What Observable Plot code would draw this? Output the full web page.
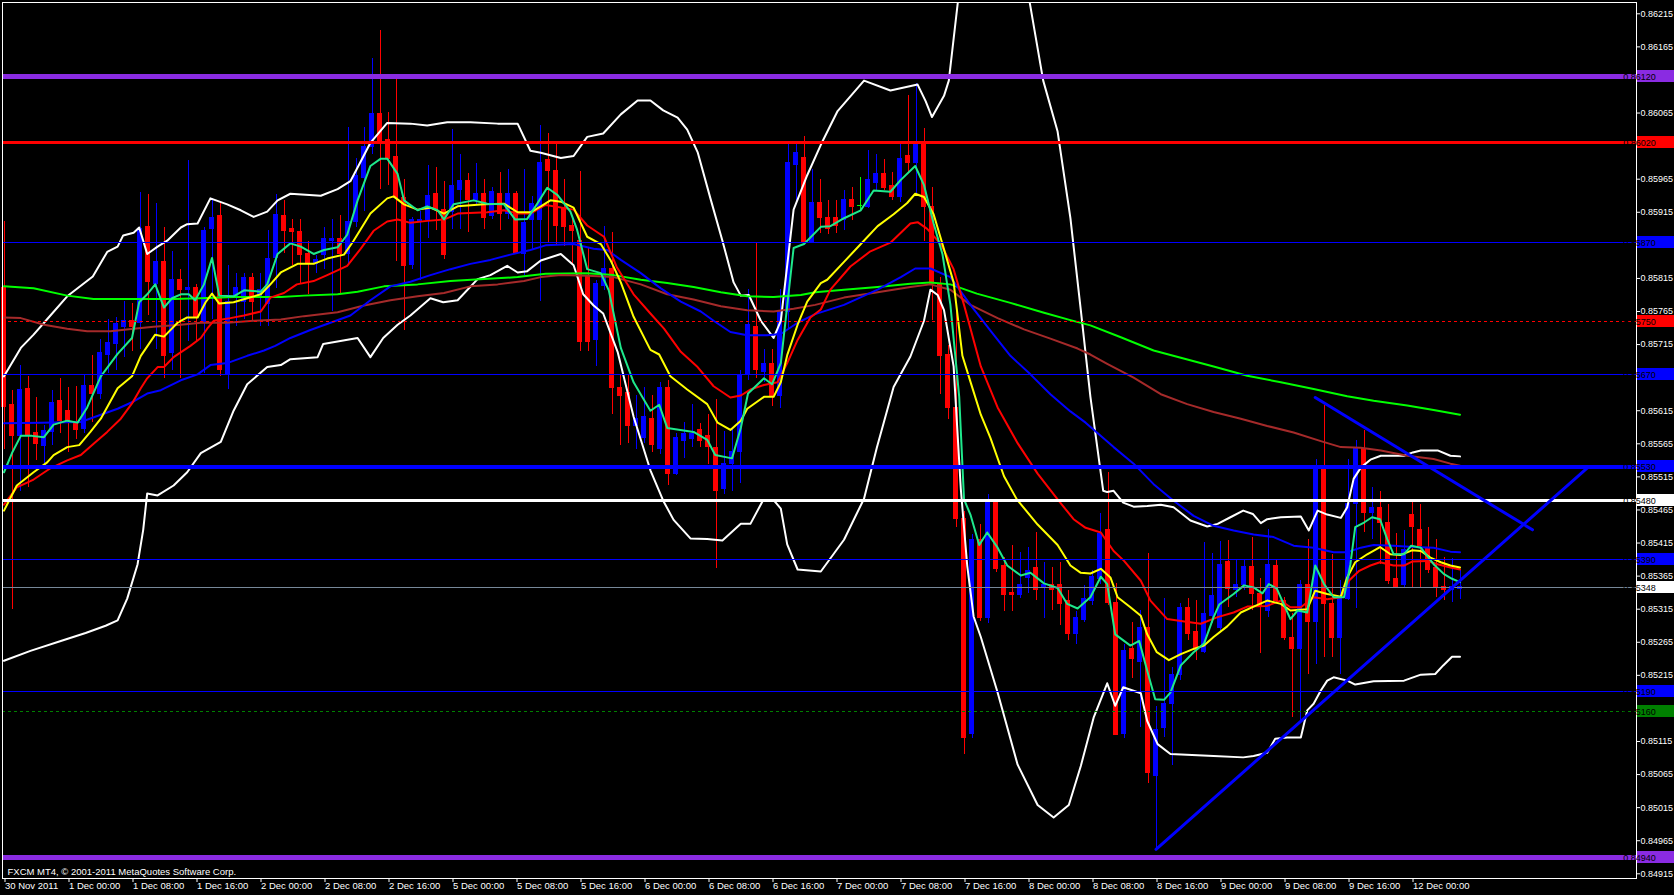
<!DOCTYPE html>
<html><head><meta charset="utf-8">
<script src="https://cdn.jsdelivr.net/npm/d3@7"></script>
<script src="https://cdn.jsdelivr.net/npm/@observablehq/plot@0.6"></script>
<style>html,body{margin:0;padding:0;background:#000;overflow:hidden}</style>
</head><body><div id="chart"></div>
<script>
// ---- H1 candles, bar 0 = 30 Nov 2011 16:00 ----
const open = [0.85800,0.85623,0.85577,0.85648,0.85581,0.85562,0.85583,0.85629,0.85614,0.85596,
0.85588,0.85652,0.85641,0.85700,0.85716,0.85742,0.85750,0.85748,0.85892,0.85807,
0.85840,0.85703,0.85813,0.85797,0.85800,0.85748,0.85889,0.85910,0.85670,0.85788,
0.85780,0.85816,0.85789,0.85777,0.85846,0.85910,0.85889,0.85885,0.85852,0.85837,
0.85851,0.85871,0.85874,0.85852,0.85901,0.85967,0.86014,0.86063,0.86025,0.85999,
0.85936,0.85836,0.85901,0.85904,0.85942,0.85918,0.85916,0.85948,0.85963,0.85933,
0.85942,0.85910,0.85943,0.85913,0.85942,0.85852,0.85904,0.85904,0.85994,0.85978,
0.85922,0.85894,0.85872,0.85818,0.85722,0.85803,0.85829,0.85650,0.85642,0.85592,
0.85574,0.85603,0.85557,0.85650,0.85519,0.85570,0.85573,0.85586,0.85577,0.85558,
0.85496,0.85534,0.85552,0.85669,0.85741,0.85674,0.85685,0.85638,0.85765,0.85987,
0.85997,0.85869,0.85929,0.85906,0.85907,0.85904,0.85933,0.85925,0.85923,0.85960,
0.85973,0.85954,0.85938,0.86000,0.85989,0.86018,0.85923,0.85806,0.85699,0.85619,
0.85452,0.85127,0.85420,0.85301,0.85475,0.85380,0.85340,0.85337,0.85362,0.85378,
0.85347,0.85351,0.85351,0.85328,0.85277,0.85298,0.85328,0.85361,0.85434,0.85325,
0.85127,0.85255,0.85235,0.85287,0.85063,0.85136,0.85171,0.85216,0.85317,0.85281,
0.85251,0.85305,0.85287,0.85386,0.85344,0.85352,0.85379,0.85338,0.85313,0.85381,
0.85328,0.85271,0.85255,0.85351,0.85295,0.85527,0.85323,0.85272,0.85330,0.85474,
0.85557,0.85461,0.85468,0.85445,0.85361,0.85351,0.85458,0.85434,0.85406,0.85378,
0.85349,0.85344,0.85345];
const high = [0.85901,0.85646,0.85684,0.85667,0.85635,0.85592,0.85645,0.85664,0.85650,0.85652,
0.85670,0.85698,0.85722,0.85753,0.85756,0.85780,0.85777,0.85945,0.85942,0.85928,
0.85892,0.85855,0.85829,0.85994,0.85806,0.85892,0.85936,0.85930,0.85834,0.85823,
0.85823,0.85823,0.85823,0.85887,0.85942,0.85933,0.85904,0.85904,0.85871,0.85849,
0.85892,0.85904,0.85910,0.86043,0.85996,0.86043,0.86147,0.86190,0.86066,0.86118,
0.85965,0.85907,0.85916,0.85985,0.85982,0.85962,0.86040,0.86002,0.85973,0.85988,
0.85965,0.85953,0.85975,0.85980,0.85946,0.85980,0.85939,0.86046,0.86034,0.86020,
0.85965,0.85907,0.85976,0.85861,0.85812,0.85893,0.85884,0.85670,0.85670,0.85638,
0.85650,0.85638,0.85658,0.85661,0.85580,0.85597,0.85624,0.85595,0.85609,0.85632,
0.85583,0.85586,0.85676,0.85798,0.85868,0.85707,0.85707,0.85798,0.86017,0.86017,
0.86030,0.85980,0.85964,0.85933,0.85933,0.85948,0.85952,0.85967,0.86008,0.86002,
0.85995,0.85975,0.86018,0.86091,0.86110,0.86041,0.85952,0.85817,0.85713,0.85767,
0.85462,0.85428,0.85443,0.85488,0.85478,0.85393,0.85412,0.85400,0.85408,0.85431,
0.85385,0.85378,0.85385,0.85343,0.85312,0.85351,0.85373,0.85460,0.85522,0.85354,
0.85262,0.85295,0.85313,0.85399,0.85168,0.85331,0.85227,0.85323,0.85331,0.85328,
0.85416,0.85399,0.85417,0.85419,0.85388,0.85388,0.85423,0.85361,0.85436,0.85389,
0.85333,0.85308,0.85358,0.85420,0.85542,0.85623,0.85398,0.85358,0.85542,0.85570,
0.85585,0.85499,0.85493,0.85474,0.85429,0.85434,0.85476,0.85473,0.85439,0.85420,
0.85393,0.85391,0.85373];
const low = [0.85556,0.85314,0.85493,0.85499,0.85540,0.85530,0.85562,0.85580,0.85552,0.85571,
0.85580,0.85597,0.85632,0.85672,0.85676,0.85695,0.85704,0.85707,0.85759,0.85707,
0.85664,0.85676,0.85664,0.85719,0.85719,0.85672,0.85753,0.85667,0.85647,0.85742,
0.85753,0.85751,0.85742,0.85742,0.85800,0.85852,0.85834,0.85806,0.85791,0.85822,
0.85829,0.85765,0.85791,0.85834,0.85892,0.85916,0.86002,0.85950,0.85956,0.85840,
0.85736,0.85829,0.85812,0.85875,0.85887,0.85843,0.85889,0.85889,0.85884,0.85927,
0.85889,0.85904,0.85888,0.85904,0.85852,0.85820,0.85858,0.85780,0.85869,0.85865,
0.85864,0.85838,0.85705,0.85705,0.85682,0.85797,0.85609,0.85563,0.85566,0.85557,
0.85566,0.85552,0.85549,0.85502,0.85517,0.85543,0.85560,0.85560,0.85534,0.85376,
0.85488,0.85493,0.85505,0.85661,0.85664,0.85658,0.85621,0.85618,0.85739,0.85930,
0.85868,0.85868,0.85883,0.85881,0.85883,0.85887,0.85902,0.85918,0.85920,0.85948,
0.85948,0.85933,0.85930,0.85975,0.85940,0.85871,0.85751,0.85640,0.85601,0.85439,
0.85096,0.85119,0.85296,0.85293,0.85370,0.85312,0.85312,0.85331,0.85339,0.85328,
0.85301,0.85313,0.85290,0.85267,0.85262,0.85295,0.85320,0.85353,0.85320,0.85124,
0.85120,0.85210,0.85136,0.85051,0.84952,0.85121,0.85078,0.85207,0.85267,0.85237,
0.85248,0.85293,0.85282,0.85318,0.85333,0.85343,0.85313,0.85248,0.85303,0.85323,
0.85267,0.85151,0.85146,0.85217,0.85232,0.85242,0.85242,0.85217,0.85328,0.85316,
0.85431,0.85421,0.85383,0.85353,0.85348,0.85347,0.85347,0.85347,0.85369,0.85333,
0.85328,0.85325,0.85330];
const close = [0.85621,0.85577,0.85646,0.85579,0.85565,0.85585,0.85626,0.85600,0.85598,0.85586,
0.85652,0.85641,0.85703,0.85717,0.85746,0.85750,0.85742,0.85889,0.85809,0.85840,
0.85698,0.85812,0.85797,0.85800,0.85756,0.85887,0.85907,0.85676,0.85780,0.85800,
0.85815,0.85780,0.85797,0.85845,0.85911,0.85887,0.85885,0.85851,0.85837,0.85843,
0.85874,0.85874,0.85852,0.85901,0.85970,0.86014,0.86063,0.86023,0.85996,0.85936,
0.85834,0.85904,0.85904,0.85939,0.85918,0.85851,0.85955,0.85963,0.85933,0.85943,
0.85907,0.85946,0.85913,0.85943,0.85853,0.85899,0.85928,0.85989,0.85978,0.85894,
0.85893,0.85887,0.85719,0.85719,0.85806,0.85829,0.85650,0.85638,0.85592,0.85603,
0.85605,0.85563,0.85650,0.85519,0.85574,0.85580,0.85580,0.85569,0.85560,0.85494,
0.85534,0.85552,0.85667,0.85744,0.85677,0.85686,0.85638,0.85765,0.85989,0.86005,
0.85869,0.85929,0.85906,0.85889,0.85894,0.85933,0.85923,0.85925,0.85964,0.85973,
0.85952,0.85938,0.85996,0.85989,0.86018,0.85923,0.85806,0.85697,0.85619,0.85452,
0.85121,0.85420,0.85301,0.85478,0.85375,0.85337,0.85337,0.85351,0.85373,0.85344,
0.85352,0.85344,0.85323,0.85277,0.85301,0.85331,0.85363,0.85429,0.85325,0.85125,
0.85252,0.85240,0.85287,0.85068,0.85133,0.85172,0.85216,0.85317,0.85278,0.85253,
0.85308,0.85335,0.85382,0.85345,0.85352,0.85379,0.85338,0.85318,0.85382,0.85327,
0.85271,0.85255,0.85351,0.85295,0.85527,0.85323,0.85272,0.85333,0.85474,0.85557,
0.85461,0.85468,0.85445,0.85358,0.85349,0.85405,0.85439,0.85411,0.85374,0.85348,
0.85344,0.85348,0.85348];

// ---- indicator lines as [bar, price] ----
const maFast = [[0,0.85522],[1,0.85551],[2.1,0.85577],[3.5,0.85577],[5,0.85575],[6.2,0.85594],[7.9,0.85600],[9.2,0.85597],[10.4,0.85620],[12.1,0.85667],[14.2,0.85701],[16,0.85725],[16.9,0.85779],[17.9,0.85791],[18.9,0.85806],[20,0.85771],[21,0.85785],[22.1,0.85791],[23.1,0.85791],[23.9,0.85782],[25,0.85806],[26,0.85846],[26.9,0.85789],[28.7,0.85788],[30,0.85797],[32.1,0.85795],[32.9,0.85806],[34.2,0.85852],[35.8,0.85868],[37.1,0.85863],[38.7,0.85852],[40,0.85858],[41.7,0.85862],[42.9,0.85881],[44.2,0.85933],[45.8,0.85985],[47.1,0.85996],[47.9,0.85996],[49.2,0.85973],[50,0.85933],[51.7,0.85918],[52.9,0.85924],[54.2,0.85918],[55,0.85904],[56.2,0.85927],[58.7,0.85933],[60.4,0.85928],[62.5,0.85927],[63.9,0.85904],[65.4,0.85905],[66.6,0.85927],[67.9,0.85952],[69.2,0.85941],[70.8,0.85916],[71.6,0.85890],[72.9,0.85829],[74.6,0.85823],[75.6,0.85797],[77.1,0.85710],[78.7,0.85658],[80.8,0.85615],[81.9,0.85624],[82.9,0.85589],[86.2,0.85583],[87.9,0.85571],[88.9,0.85548],[91,0.85543],[92.1,0.85589],[93,0.85641],[95,0.85664],[96,0.85655],[97.1,0.85687],[97.9,0.85774],[98.7,0.85861],[100,0.85867],[102.1,0.85893],[103.3,0.85894],[105,0.85906],[107.1,0.85918],[108.7,0.85948],[110.8,0.85946],[112.1,0.85964],[113.9,0.85985],[115,0.85956],[116.2,0.85898],[117.3,0.85852],[118.3,0.85775],[119.4,0.85636],[120,0.85481],[120.8,0.85458],[121.9,0.85412],[122.9,0.85431],[124.2,0.85408],[125.4,0.85381],[127.1,0.85366],[128.3,0.85370],[130,0.85354],[131.7,0.85347],[132.9,0.85323],[134.2,0.85316],[135.8,0.85333],[137.1,0.85364],[137.9,0.85353],[138.9,0.85277],[140.8,0.85260],[141.9,0.85267],[142.9,0.85222],[143.9,0.85179],[145,0.85178],[145.8,0.85189],[147.1,0.85230],[148.7,0.85250],[150,0.85263],[151.2,0.85303],[151.9,0.85322],[153.7,0.85338],[155,0.85351],[156.2,0.85348],[157.3,0.85339],[158.1,0.85353],[159.1,0.85346],[160.8,0.85300],[161.7,0.85313],[162.9,0.85310],[163.9,0.85381],[165,0.85353],[166.2,0.85333],[167.5,0.85333],[168.3,0.85383],[168.9,0.85439],[170,0.85446],[171,0.85454],[172,0.85451],[172.9,0.85421],[173.7,0.85398],[175,0.85398],[175.9,0.85411],[177.1,0.85408],[178.7,0.85383],[180,0.85368],[181,0.85361],[182,0.85356]];
const maYellow = [[0,0.85464],[1.6,0.85502],[3.7,0.85522],[5.4,0.85537],[6.2,0.85548],[7.9,0.85560],[9.4,0.85563],[10.8,0.85583],[12.1,0.85603],[14.2,0.85649],[16,0.85667],[17.1,0.85698],[18.9,0.85730],[20,0.85727],[21.7,0.85748],[22.9,0.85756],[24.2,0.85756],[25.2,0.85779],[26,0.85792],[26.9,0.85777],[28.7,0.85779],[30.4,0.85785],[32.1,0.85791],[33.3,0.85806],[34.6,0.85824],[36.7,0.85837],[38.7,0.85837],[40.4,0.85845],[42.5,0.85851],[43.7,0.85872],[45.8,0.85913],[47.9,0.85936],[48.7,0.85939],[50,0.85927],[51.7,0.85919],[53.3,0.85922],[55,0.85913],[56.7,0.85924],[60,0.85927],[62.5,0.85928],[64.2,0.85915],[65.8,0.85915],[67.1,0.85924],[68.3,0.85933],[69.6,0.85931],[71.2,0.85922],[72.9,0.85878],[74.6,0.85867],[75.8,0.85843],[77.1,0.85809],[78.7,0.85757],[80.8,0.85707],[81.9,0.85700],[83.3,0.85667],[85.4,0.85647],[87.9,0.85625],[89.2,0.85597],[90.8,0.85586],[92.1,0.85600],[92.9,0.85618],[95,0.85636],[96.2,0.85636],[97.1,0.85658],[97.9,0.85699],[99.2,0.85745],[100.4,0.85780],[102.1,0.85808],[102.9,0.85813],[105,0.85840],[107.1,0.85867],[109.2,0.85894],[111.2,0.85912],[112.9,0.85929],[113.9,0.85943],[115,0.85938],[116.2,0.85912],[117.5,0.85859],[118.7,0.85809],[119.8,0.85698],[120.8,0.85659],[122.1,0.85609],[123.3,0.85574],[125,0.85516],[126.6,0.85481],[129.2,0.85443],[131.7,0.85412],[133.3,0.85381],[134.6,0.85370],[135.8,0.85369],[137.1,0.85376],[138.3,0.85363],[139.2,0.85333],[140.8,0.85318],[142.1,0.85305],[142.9,0.85277],[144.1,0.85250],[145.6,0.85238],[147.1,0.85247],[148.7,0.85255],[150,0.85260],[151.2,0.85273],[152.9,0.85289],[154.6,0.85310],[156.2,0.85319],[157.9,0.85328],[159.6,0.85323],[160.8,0.85313],[162.9,0.85315],[163.9,0.85343],[165.4,0.85338],[167.1,0.85334],[167.9,0.85363],[168.9,0.85386],[170.4,0.85398],[172,0.85409],[173.3,0.85398],[174.6,0.85397],[176,0.85404],[177.1,0.85403],[178.3,0.85393],[179.6,0.85386],[180.8,0.85381],[182,0.85378]];
const maRed = [[0,0.85473],[1.6,0.85499],[3.7,0.85511],[5.8,0.85528],[7.9,0.85540],[9.6,0.85548],[11.2,0.85565],[12.9,0.85583],[14.6,0.85603],[16,0.85626],[17.1,0.85649],[17.9,0.85664],[19.2,0.85681],[20,0.85681],[21.2,0.85696],[23.3,0.85713],[24.6,0.85725],[25.4,0.85739],[26.2,0.85751],[28.3,0.85755],[30,0.85759],[32.1,0.85765],[33.3,0.85786],[35,0.85793],[36.6,0.85806],[38.7,0.85811],[40.4,0.85820],[42.9,0.85834],[44.6,0.85860],[46.2,0.85887],[47.9,0.85901],[49.2,0.85904],[50.8,0.85899],[52.9,0.85902],[55,0.85904],[56.7,0.85913],[60.4,0.85915],[62.5,0.85918],[64.2,0.85913],[65.8,0.85913],[67.7,0.85926],[71.2,0.85919],[72.9,0.85895],[75,0.85878],[76.6,0.85832],[78.7,0.85791],[80.8,0.85762],[82.5,0.85739],[84.6,0.85704],[86.7,0.85681],[88.7,0.85652],[90.8,0.85635],[92.1,0.85638],[93.3,0.85647],[95,0.85654],[96.7,0.85658],[97.9,0.85687],[99.2,0.85722],[100.8,0.85756],[102.1,0.85768],[103.3,0.85798],[105.8,0.85833],[108.3,0.85856],[110.8,0.85869],[113.3,0.85898],[114.2,0.85900],[115.4,0.85890],[117.1,0.85867],[118.7,0.85829],[120,0.85775],[122.1,0.85682],[124.2,0.85620],[126.7,0.85566],[129.2,0.85520],[131.7,0.85481],[133.7,0.85451],[135.2,0.85438],[137.1,0.85431],[138.7,0.85403],[140,0.85388],[142.1,0.85358],[143.3,0.85328],[145.4,0.85300],[147.1,0.85297],[149.6,0.85293],[151.7,0.85303],[153.7,0.85310],[155.4,0.85319],[157.9,0.85320],[159.6,0.85328],[160.8,0.85318],[162.1,0.85318],[163.7,0.85333],[165.4,0.85330],[167.1,0.85333],[168.1,0.85358],[169.4,0.85373],[170.8,0.85381],[172,0.85386],[173.7,0.85381],[175,0.85381],[176,0.85387],[177.9,0.85388],[179.2,0.85383],[180.8,0.85378],[182,0.85375]];
const maBlue = [[0,0.85596],[4.6,0.85597],[9.6,0.85598],[12.1,0.85609],[14.2,0.85618],[16.2,0.85629],[17.9,0.85641],[19.6,0.85646],[22.1,0.85661],[24.2,0.85670],[25.8,0.85684],[27.9,0.85687],[30.4,0.85698],[32.5,0.85706],[33.9,0.85713],[35.8,0.85725],[38.3,0.85737],[40.8,0.85748],[43.3,0.85759],[45.8,0.85782],[48.3,0.85803],[50.8,0.85810],[53.3,0.85820],[55.8,0.85829],[58.3,0.85837],[60.8,0.85843],[63.3,0.85851],[65.8,0.85858],[67.7,0.85865],[71.2,0.85867],[73.7,0.85860],[75.4,0.85858],[77.1,0.85843],[79.6,0.85823],[82.1,0.85800],[84.6,0.85780],[87.1,0.85765],[88.7,0.85751],[90.8,0.85734],[92.9,0.85729],[95.4,0.85729],[97.1,0.85731],[99.2,0.85748],[101.4,0.85761],[105,0.85775],[109.2,0.85798],[112.1,0.85817],[113.9,0.85830],[115.8,0.85830],[118.3,0.85817],[120.8,0.85775],[123.3,0.85736],[125.8,0.85698],[128.3,0.85670],[130.8,0.85640],[133.3,0.85614],[135.2,0.85597],[138.7,0.85560],[141.2,0.85535],[143.7,0.85504],[146.2,0.85479],[148.7,0.85456],[151.2,0.85441],[153.7,0.85434],[156.2,0.85428],[158.7,0.85424],[161.2,0.85411],[163.7,0.85408],[166.2,0.85401],[167.9,0.85401],[169.6,0.85408],[171.2,0.85412],[173.7,0.85411],[176.2,0.85409],[178.7,0.85408],[180.8,0.85402],[182,0.85401]];
const maBrown = [[0,0.85756],[2.1,0.85755],[5,0.85745],[7.9,0.85739],[10.4,0.85735],[13.3,0.85735],[16.2,0.85739],[18.7,0.85742],[22.1,0.85745],[24.6,0.85748],[27.9,0.85748],[31.2,0.85751],[34.6,0.85753],[37.5,0.85758],[41.7,0.85764],[45,0.85774],[48.3,0.85782],[51.7,0.85788],[55,0.85793],[58.3,0.85803],[61.7,0.85806],[65,0.85811],[67.1,0.85817],[69.6,0.85820],[72.9,0.85819],[76.2,0.85817],[79.6,0.85806],[82.9,0.85791],[86.2,0.85783],[89.6,0.85773],[92.9,0.85767],[96.2,0.85765],[98.7,0.85769],[101.4,0.85775],[105,0.85786],[109.2,0.85794],[113.3,0.85802],[115.8,0.85806],[118.3,0.85798],[120.8,0.85775],[124.2,0.85755],[127.5,0.85738],[130.8,0.85724],[134.2,0.85709],[135.8,0.85700],[137.9,0.85686],[141.2,0.85665],[144.6,0.85640],[147.9,0.85625],[151.2,0.85613],[154.6,0.85603],[157.9,0.85592],[161.2,0.85582],[164.6,0.85569],[167.1,0.85560],[169.6,0.85559],[172.1,0.85555],[175.4,0.85547],[178.7,0.85542],[180.8,0.85535],[182,0.85532]];
const maLime = [[0,0.85803],[3.7,0.85800],[7.9,0.85789],[11.2,0.85784],[16.2,0.85784],[21.2,0.85784],[24.6,0.85785],[28.7,0.85787],[34.6,0.85787],[37.5,0.85789],[41.7,0.85791],[44.2,0.85795],[47.5,0.85803],[51.7,0.85806],[55.8,0.85811],[60,0.85814],[64.2,0.85817],[67.7,0.85822],[72.9,0.85823],[76.2,0.85820],[79.6,0.85813],[82.9,0.85808],[86.2,0.85802],[89.6,0.85794],[92.9,0.85788],[96.2,0.85787],[99.6,0.85790],[101.4,0.85794],[105,0.85798],[109.2,0.85802],[113.3,0.85807],[115.8,0.85809],[118.3,0.85806],[121.6,0.85792],[125.8,0.85778],[130,0.85763],[133.3,0.85752],[135.8,0.85744],[139.6,0.85726],[143.7,0.85706],[147.1,0.85695],[151.2,0.85682],[155.4,0.85668],[159.6,0.85658],[163.7,0.85648],[167.9,0.85637],[171.2,0.85630],[175.4,0.85623],[178.7,0.85616],[182,0.85609]];
const bbUpper = [[0,0.85667],[2.1,0.85710],[3.7,0.85730],[5.8,0.85759],[7.9,0.85788],[11.1,0.85818],[12.9,0.85855],[14.2,0.85863],[14.9,0.85880],[16.2,0.85884],[16.9,0.85892],[17.9,0.85852],[19.2,0.85863],[20.4,0.85872],[22.1,0.85892],[22.9,0.85897],[24.2,0.85898],[25.8,0.85936],[27.9,0.85927],[29.6,0.85918],[31.2,0.85908],[32.9,0.85916],[34.2,0.85933],[35.8,0.85943],[39.6,0.85940],[41.7,0.85950],[43.3,0.85962],[44.9,0.85999],[45.8,0.86020],[47.9,0.86050],[50.8,0.86049],[52.9,0.86046],[55.4,0.86051],[58.3,0.86051],[61.7,0.86049],[64.2,0.86049],[65.8,0.86008],[67.1,0.86005],[69.6,0.85997],[71.2,0.86000],[72.9,0.86029],[74.9,0.86034],[77.1,0.86063],[79.2,0.86084],[80.8,0.86084],[82.4,0.86069],[84.2,0.86058],[85.4,0.86040],[86.7,0.86006],[88.3,0.85936],[89.8,0.85872],[91.2,0.85809],[92.1,0.85789],[93.1,0.85790],[94.6,0.85751],[96.2,0.85725],[97.1,0.85751],[98.7,0.85919],[100.4,0.85971],[102.1,0.86017],[104.2,0.86068],[107.5,0.86114],[110.8,0.86099],[114.2,0.86108],[115.2,0.86083],[116,0.86059],[117.5,0.86091],[118.1,0.86114],[119.3,0.86240],[121,0.86400],[123.5,0.86480],[126,0.86400],[128.1,0.86240],[129.9,0.86114],[131.7,0.86037],[133.3,0.85906],[134.6,0.85767],[135.8,0.85636],[137.4,0.85494],[137.9,0.85492],[138.7,0.85494],[139.9,0.85476],[141.2,0.85470],[142.9,0.85471],[144.6,0.85473],[146.2,0.85469],[148.3,0.85449],[150.4,0.85440],[151.7,0.85444],[153.3,0.85454],[154.9,0.85464],[156.1,0.85459],[157.1,0.85445],[157.9,0.85451],[159.6,0.85454],[162.1,0.85455],[163.1,0.85434],[164.2,0.85464],[165.4,0.85458],[167.1,0.85453],[167.9,0.85469],[168.7,0.85512],[169.6,0.85529],[170.8,0.85541],[172.1,0.85547],[175,0.85547],[176.1,0.85552],[177.1,0.85555],[179.2,0.85555],[180.8,0.85547],[182,0.85546]];
const bbLower = [[0,0.85237],[3.3,0.85252],[7.1,0.85267],[10.2,0.85279],[12.7,0.85290],[14.2,0.85298],[15.4,0.85331],[16.7,0.85383],[17.4,0.85435],[17.9,0.85490],[19.2,0.85487],[21.2,0.85502],[22.9,0.85522],[24.6,0.85551],[27.1,0.85568],[28.7,0.85615],[30.4,0.85655],[32.9,0.85681],[34.6,0.85684],[35.8,0.85693],[39.2,0.85696],[39.9,0.85716],[44.2,0.85725],[45.8,0.85696],[47.4,0.85725],[49.2,0.85745],[50.8,0.85759],[53.3,0.85785],[54.9,0.85779],[56.7,0.85782],[59.2,0.85814],[60.8,0.85820],[62.9,0.85834],[64.2,0.85824],[65.4,0.85826],[67.1,0.85842],[69.6,0.85852],[71.2,0.85835],[72.4,0.85791],[73.7,0.85774],[74.9,0.85762],[76.7,0.85704],[78.7,0.85606],[80.8,0.85525],[82.4,0.85479],[83.7,0.85450],[85.8,0.85422],[87.9,0.85421],[89.8,0.85419],[92.1,0.85444],[93.3,0.85444],[94.9,0.85480],[96.2,0.85480],[97.1,0.85467],[97.9,0.85413],[99.2,0.85375],[102.1,0.85372],[105,0.85420],[107.5,0.85482],[109.1,0.85559],[111.2,0.85651],[113.3,0.85697],[115,0.85751],[115.8,0.85798],[116.7,0.85790],[117.5,0.85767],[118.7,0.85682],[119.6,0.85497],[120.4,0.85381],[121.2,0.85304],[122.1,0.85273],[124.2,0.85189],[126.7,0.85080],[129.2,0.85019],[131.2,0.85000],[133.1,0.85019],[134.6,0.85078],[136.2,0.85151],[137.9,0.85203],[138.9,0.85169],[139.9,0.85197],[142.1,0.85188],[142.9,0.85146],[144.2,0.85111],[145.8,0.85096],[151.2,0.85093],[154.9,0.85091],[156.2,0.85093],[157.9,0.85098],[158.9,0.85119],[160.4,0.85121],[162.1,0.85121],[162.9,0.85162],[163.7,0.85172],[164.6,0.85192],[165.4,0.85207],[166.2,0.85212],[167.9,0.85207],[168.9,0.85201],[171.2,0.85206],[175,0.85207],[177.1,0.85216],[178.9,0.85217],[179.9,0.85230],[181,0.85243],[182,0.85243]];

// ---- drawn objects ----
const trendUp = [[144, 0.84952], [198.06, 0.85530]];
const trendDown = [[163.9, 0.85635], [191.06, 0.85435]];
const levelPrice = [0.86120, 0.86020, 0.85870, 0.85750, 0.85670, 0.85530, 0.85480, 0.85390, 0.85348, 0.85190, 0.85160, 0.84940];

// ---- axis ticks ----
const yTicks = [0.86215,0.86165,0.86115,0.86065,0.86015,0.85965,0.85915,0.85865,0.85815,0.85765,0.85715,0.85665,0.85615,0.85565,0.85515,0.85465,0.85415,0.85365,0.85315,0.85265,0.85215,0.85165,0.85115,0.85065,0.85015,0.84965,0.84915];
const xTickBars = [0,8,16,24,32,40,48,56,64,72,80,88,96,104,112,120,128,136,144,152,160,168,176];
const xLabels = ["30 Nov 2011","1 Dec 00:00","1 Dec 08:00","1 Dec 16:00","2 Dec 00:00","2 Dec 08:00","2 Dec 16:00","5 Dec 00:00","5 Dec 08:00","5 Dec 16:00","6 Dec 00:00","6 Dec 08:00","6 Dec 16:00","7 Dec 00:00","7 Dec 08:00","7 Dec 16:00","8 Dec 00:00","8 Dec 08:00","8 Dec 16:00","9 Dec 00:00","9 Dec 08:00","9 Dec 16:00","12 Dec 00:00"];
const copyright = "FXCM MT4, \u00A9 2001-2011 MetaQuotes Software Corp.";

// ---- styles (kept apart from the data) ----
const levelStyle = [
  {color:"#8a2be2", w:5, dash:false, bg:"#8a2be2", fg:"#000"},
  {color:"#ff0000", w:3, dash:false, bg:"#ff0000", fg:"#000"},
  {color:"#0000ff", w:1, dash:false, bg:"#0000ff", fg:"#000"},
  {color:"#ff0000", w:1, dash:true,  bg:"#ff0000", fg:"#000"},
  {color:"#0000ff", w:1, dash:false, bg:"#0000ff", fg:"#000"},
  {color:"#0000ff", w:4, dash:false, bg:"#0000ff", fg:"#000"},
  {color:"#ffffff", w:3, dash:false, bg:"#ffffff", fg:"#000"},
  {color:"#0000ff", w:1, dash:false, bg:"#0000ff", fg:"#000"},
  {color:"#778899", w:1, dash:false, bg:"#ffffff", fg:"#000"},
  {color:"#0000ff", w:1, dash:false, bg:"#0000ff", fg:"#000"},
  {color:"#008000", w:1, dash:true,  bg:"#008000", fg:"#000"},
  {color:"#8a2be2", w:5, dash:false, bg:"#8a2be2", fg:"#000"}
];

const W = 1674, H = 895;
const bars = open.map((o, i) => ({i, o, h: high[i], l: low[i], c: close[i]}));
const candleColor = d => d.c > d.o ? "#0000ff" : d.c < d.o ? "#ff0000" : "#00ff00";
const pts = arr => arr.map(([b, v]) => ({b, v}));
const ln = (arr, stroke, w = 2) => Plot.line(pts(arr), {x: "b", y: "v", stroke, strokeWidth: w, clip: true, strokeLinejoin: "round"});
const levels = levelPrice.map((p, k) => ({p, ...levelStyle[k]}));
const fmt = d3.format(".5f");
// tick labels that sit fully under a level's price box are hidden, as on the original
const hiddenTick = t => levelPrice.some(p => Math.abs(p - t) < 0.00008);
const FONT = "'Liberation Sans', Arial, sans-serif";

const plot = Plot.plot({
  width: W, height: H,
  marginLeft: 2, marginRight: 38, marginTop: 2, marginBottom: 17,
  style: {background: "#000", color: "#fff", fontFamily: FONT, fontSize: "9.5px"},
  color: {type: "identity"},
  x: {type: "linear", domain: [-0.1875, 204.06]},
  y: {domain: [0.849079, 0.862321]},
  marks: [
    Plot.ruleX(bars, {x: "i", y1: "l", y2: "h", stroke: candleColor, strokeWidth: 1, shapeRendering: "crispEdges"}),
    Plot.rect(bars, {x1: d => d.i - 0.3125, x2: d => d.i + 0.3125, y1: "o", y2: "c", fill: candleColor, insetTop: -0.5, insetBottom: -0.5, shapeRendering: "crispEdges"}),
    ln(bbUpper, "#ffffff"),
    ln(bbLower, "#ffffff"),
    ln(maLime, "#00ff00"),
    ln(maBrown, "#a52a2a"),
    ln(maBlue, "#0000ff"),
    ln(maRed, "#ff0000"),
    ln(maYellow, "#ffff00"),
    ln(maFast, "#1ee88c"),
    Plot.ruleY(levels.filter(d => !d.dash), {y: "p", stroke: "color", strokeWidth: "w", shapeRendering: "crispEdges"}),
    Plot.ruleY(levels.filter(d => d.dash), {y: "p", stroke: "color", strokeWidth: "w", strokeDasharray: "3,3", shapeRendering: "crispEdges"}),
    Plot.line(pts(trendUp), {x: "b", y: "v", stroke: "#0000ff", strokeWidth: 3}),
    Plot.line(pts(trendDown), {x: "b", y: "v", stroke: "#0000ff", strokeWidth: 3}),
    Plot.frame({stroke: "#fff", shapeRendering: "crispEdges"}),
    Plot.axisY({anchor: "right", ticks: yTicks, tickFormat: t => hiddenTick(t) ? "" : fmt(t), tickSize: 3, tickPadding: 1, label: null, fill: "#fff", fontSize: 9}),
    Plot.axisX({anchor: "bottom", ticks: xTickBars, tickFormat: d => xLabels[Math.round(d / 8)], tickSize: 4, tickPadding: 0, textAnchor: "start", dx: 1, label: null, fill: "#fff"}),
    Plot.text([copyright], {frameAnchor: "bottom-left", text: d => d, dx: 5, dy: -4, textAnchor: "start", lineAnchor: "bottom", fill: "#fff"})
  ]
});

// price boxes on the right axis for each drawn level, placed with Plot's y scale
const ys = plot.scale("y");
const svg = d3.select(plot);
const g = svg.append("g").attr("font-family", FONT).attr("font-size", "9px");
levels.forEach(d => {
  const yy = Math.round(ys.apply(d.p));
  g.append("rect").attr("x", 1637).attr("y", yy - 6).attr("width", 37).attr("height", 12).attr("fill", d.bg);
  g.append("text").attr("x", 1639.5).attr("y", yy + 3.5).attr("fill", d.fg).text(fmt(d.p));
});
document.getElementById("chart").append(plot);
</script>
</body></html>
